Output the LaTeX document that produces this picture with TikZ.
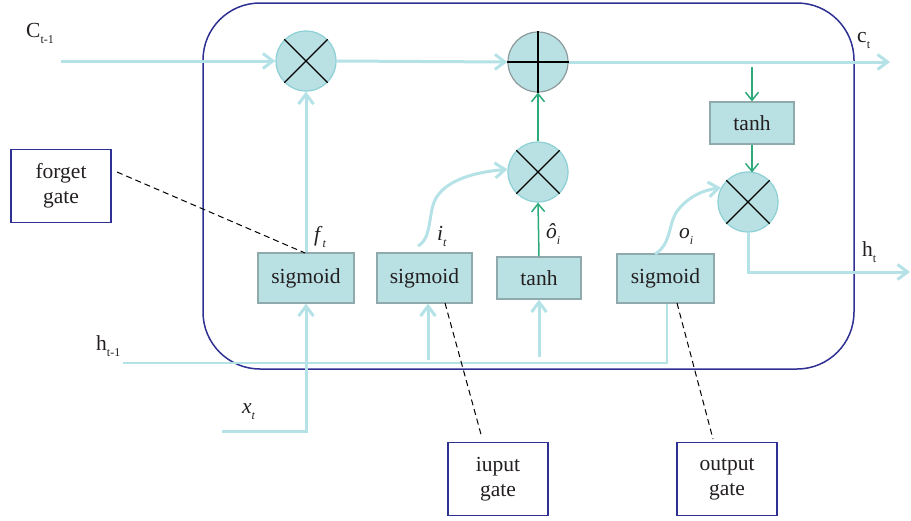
\documentclass[tikz,border=0pt]{standalone}
\usepackage{fontspec}
\setmainfont{Liberation Serif}
\usetikzlibrary{arrows.meta}
\definecolor{tealline}{HTML}{B5E2E7}
\definecolor{boxfill}{HTML}{B9E0E3}
\definecolor{boxdraw}{HTML}{8FA9AC}
\definecolor{circdraw}{HTML}{8CCFD5}
\definecolor{plusdraw}{HTML}{8C9A9C}
\definecolor{navy}{HTML}{2E3092}
\definecolor{grn}{HTML}{2DAA7A}
\definecolor{txt}{HTML}{231F20}
\newcommand{\mysub}[1]{\raisebox{-6pt}{\fontsize{12}{13}\selectfont #1}}
\begin{document}
\begin{tikzpicture}[x=1pt,y=-1pt,
  font=\fontsize{21.5}{25}\selectfont, text=txt,
  flow/.style={draw=tealline, line width=3pt, -{Straight Barb[length=10pt,width=15pt]}},
  thinflow/.style={draw=tealline, line width=2pt},
  gflow/.style={draw=grn, line width=1.5pt, -{Straight Barb[length=8pt,width=13pt]}},
  op/.style={circle, minimum size=60pt, inner sep=0pt, fill=boxfill, draw=circdraw, line width=1.2pt},
  opplus/.style={op, draw=plusdraw},
  fbox/.style={rectangle, fill=boxfill, draw=boxdraw, line width=1.2pt, inner sep=0pt},
  gatebox/.style={rectangle, draw=navy, line width=1.5pt, minimum width=100pt, minimum height=73pt, align=center, inner sep=0pt},
  gdash/.style={draw=black, line width=1pt, dash pattern=on 6pt off 4pt},
  lbl/.style={anchor=base west, inner sep=0pt}]
\useasboundingbox (0,0) rectangle (911,520);

% cell border
\draw[navy, line width=1.5pt, rounded corners=57pt] (203,3) rectangle (854,369);

% operators
\node[op] (m1) at (306,61) {};
\node[opplus] (p1) at (538,62) {};
\node[op] (m2) at (538,172) {};
\node[op] (m3) at (748,202) {};
\foreach \n in {m1,m2,m3}{
  \draw[black, line width=1.3pt] (\n.45) -- (\n.225) (\n.135) -- (\n.315);
}
\draw[black, line width=1.3pt] (p1.north) -- (p1.south) (p1.west) -- (p1.east);

% function boxes
\node[fbox, minimum width=96pt, minimum height=50pt] (s1) at (306,278) {sigmoid};
\node[fbox, minimum width=95pt, minimum height=50pt] (s2) at (424.5,278) {sigmoid};
\node[fbox, minimum width=84pt, minimum height=42pt] (t1) at (539,278) {tanh};
\node[fbox, minimum width=97pt, minimum height=49pt] (s3) at (665.5,278.5) {sigmoid};
\node[fbox, minimum width=84pt, minimum height=42pt] (t2) at (752,123) {tanh};

% gate boxes
\node[gatebox] (fg) at (61,186) {forget\\gate};
\node[gatebox] (ig) at (498,479) {iuput\\gate};
\node[gatebox] (og) at (727,479) {output\\gate};

% coordinates
\coordinate (cin) at (61,61);
\coordinate (cout) at (890,62);
\coordinate (hin) at (123,363);
\coordinate (hcorner) at (667,363);
\coordinate (xin) at (222,431);
\coordinate (xcorner) at (306,431);
\coordinate (hbend) at (748,272);
\coordinate (hout) at (910,272);
\coordinate (itstart) at (418,246);
\coordinate (otstart) at (655,254);
\coordinate (gtop) at (752,67);
\coordinate (m3top) at (752,172.5);
\coordinate (a2) at (428,360);
\coordinate (a3) at (539,357);
\coordinate (fgd) at (117,172);
\coordinate (fgs) at (305,253);
\coordinate (igs) at (445,303);
\coordinate (igd) at (482,438);
\coordinate (ogs) at (677,303);
\coordinate (ogd) at (713,439);

% cell state line
\draw[flow] (cin) -- (m1.west);
\draw[flow] (m1.east) -- (p1.west);
\draw[flow] (p1.east) -- (cout);

% h_{t-1} line
\draw[thinflow] (hin) -- (hcorner) -- (s3.south -| hcorner);
\draw[flow] (a2) -- (a2 |- s2.south);
\draw[flow] (a3) -- (t1.south);

% x_t
\draw[flow] (xin) -- (xcorner) -- (s1.south);

% forget gate output
\draw[flow] (s1.north) -- (m1.south);

% i_t curve
\draw[flow] (itstart) .. controls (432,238) and (428,215) .. (435,200)
  .. controls (445,180) and (475,172) .. (m2.175);
% o_i curve
\draw[flow] (otstart) .. controls (672,244) and (668,222) .. (678,210)
  .. controls (690,195) and (705,190) .. (m3.152);

% green arrows
\draw[gflow] (t1.north) -- (m2.south);
\draw[gflow] (m2.north) -- (p1.south);
\draw[gflow] (gtop) -- (t2.north);
\draw[gflow] (t2.south) -- (m3top);

% h_t output
\draw[flow] (m3.south) -- (hbend) -- (hout);

% dashed annotation lines
\draw[gdash] (fgd) -- (fgs);
\draw[gdash] (igs) -- (igd);
\draw[gdash] (ogs) -- (ogd);

% labels
\node[lbl] (lc) at (26,37) {C\mysub{t-1}};
\node[lbl] (lct) at (857,42) {c\mysub{t}};
\node[lbl] (lf) at (314,241) {\textit{f}\mysub{\textit{t}}};
\node[lbl] (li) at (437,240) {\textit{i}\mysub{\textit{t}}};
\node[lbl] (lo) at (546,238) {\textit{ô}\mysub{\textit{i}}};
\node[lbl] (loi) at (679,238) {\textit{o}\mysub{\textit{i}}};
\node[lbl] (lh) at (862,256) {h\mysub{t}};
\node[lbl] (lh1) at (96,350) {h\mysub{t-1}};
\node[lbl] (lx) at (242,413) {\textit{x}\mysub{\textit{t}}};
\end{tikzpicture}
\end{document}
